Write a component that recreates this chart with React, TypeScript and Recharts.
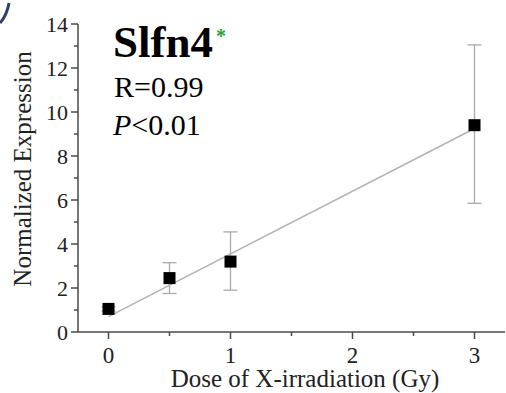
import React from "react";
import { ComposedChart, Scatter, XAxis, YAxis, ErrorBar } from "recharts";

// Slfn4 expression vs X-ray dose
const doses = [0, 0.5, 1, 3];
const means = [1.05, 2.45, 3.2, 9.4];
const lower = [0.95, 1.75, 1.9, 5.85];
const upper = [1.15, 3.15, 4.55, 13.05];

// regression line endpoints
const fitDoses = [0, 3];
const fitValues = [0.7, 9.25];

const xTicks = [0, 0.5, 1, 1.5, 2, 2.5, 3];
const yTicks = [0, 1, 2, 3, 4, 5, 6, 7, 8, 9, 10, 11, 12, 13, 14];

const FONT = "'Liberation Serif', 'Times New Roman', serif";
const AXIS = "#4a4a4a";

const points = doses.map((d, i) => ({
  x: d,
  y: means[i],
  err: [means[i] - lower[i], upper[i] - means[i]],
}));
const fit = fitDoses.map((d, i) => ({ x: d, y: fitValues[i] }));

const XTick = ({ x, y, payload }: any) => {
  const major = Number.isInteger(payload.value);
  return (
    <g>
      <line x1={x} x2={x} y1={y} y2={y + (major ? 7 : 4)} stroke={AXIS} strokeWidth={1.5} />
      {major && (
        <text x={x} y={y + 31} textAnchor="middle" fontFamily={FONT} fontSize={23} fill="#222">
          {payload.value}
        </text>
      )}
    </g>
  );
};

const YTick = ({ x, y, payload }: any) => {
  const major = payload.value % 2 === 0;
  return (
    <g>
      <line x1={x - (major ? 7 : 4)} x2={x} y1={y} y2={y} stroke={AXIS} strokeWidth={1.5} />
      {major && (
        <text x={x - 10} y={y} dy="0.36em" textAnchor="end" fontFamily={FONT} fontSize={22} fill="#222">
          {payload.value}
        </text>
      )}
    </g>
  );
};

const Square = ({ cx, cy }: any) => (
  <rect x={cx - 6} y={cy - 6} width={12} height={12} fill="#000" />
);

export default function App() {
  return (
    <div style={{ position: "absolute", left: 0, top: 0, width: 506, height: 393, background: "#fff" }}>
      <ComposedChart
        width={506}
        height={393}
        margin={{ top: 24, right: 1, bottom: 0, left: 0 }}
      >
        <XAxis
          type="number"
          dataKey="x"
          domain={[-0.25, 3.25]}
          ticks={xTicks}
          interval={0}
          height={61}
          tickSize={0}
          tickMargin={0}
          tick={<XTick />}
          axisLine={{ stroke: AXIS, strokeWidth: 1.5 }}
          allowDataOverflow
        />
        <YAxis
          type="number"
          dataKey="y"
          domain={[0, 14]}
          ticks={yTicks}
          interval={0}
          width={78}
          tickSize={0}
          tickMargin={0}
          tick={<YTick />}
          axisLine={{ stroke: AXIS, strokeWidth: 1.5 }}
          allowDataOverflow
        />
        <Scatter
          data={fit}
          line={{ stroke: "#b3b3b3", strokeWidth: 1.5 }}
          shape={() => null}
          isAnimationActive={false}
        />
        <Scatter data={points} shape={<Square />} isAnimationActive={false}>
          <ErrorBar dataKey="err" direction="y" width={7} stroke="#aaa" strokeWidth={1.3} />
        </Scatter>
      </ComposedChart>
      <svg
        width={506}
        height={393}
        style={{ position: "absolute", left: 0, top: 0, pointerEvents: "none" }}
      >
        <path d="M 9 3 Q 7 15 0 23" fill="none" stroke="#2e3f6e" strokeWidth={3} />
        <text x={113} y={57} fontFamily={FONT} fontSize={45} fontWeight="bold" fill="#000">
          Slfn4
          <tspan dx={3} dy={-14} fontSize={20} fill="#2e9e3a">*</tspan>
        </text>
        <text x={114} y={97} fontFamily={FONT} fontSize={30} fill="#000">
          R=0.99
        </text>
        <text x={113} y={135} fontFamily={FONT} fontSize={30} fill="#000">
          <tspan fontStyle="italic">P</tspan>&lt;0.01
        </text>
        <text
          transform="translate(31 169) rotate(-90)"
          textAnchor="middle"
          fontFamily={FONT}
          fontSize={25}
          fill="#222"
        >
          Normalized Expression
        </text>
        <text x={305} y={387} textAnchor="middle" fontFamily={FONT} fontSize={25} fill="#222">
          Dose of X-irradiation (Gy)
        </text>
      </svg>
    </div>
  );
}
